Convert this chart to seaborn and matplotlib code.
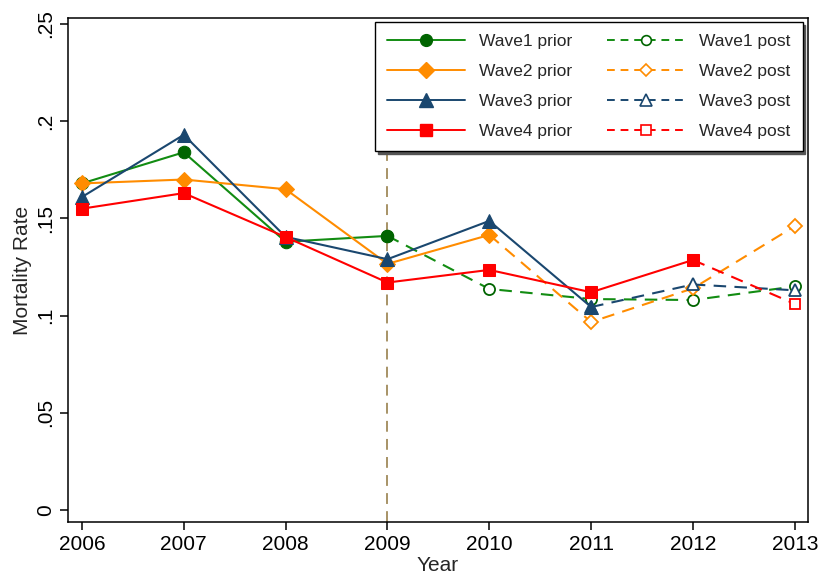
import matplotlib
matplotlib.use("Agg")
import matplotlib.pyplot as plt
import seaborn as sns
import pandas as pd
from matplotlib.lines import Line2D

sns.set_style("ticks")
plt.rcParams['font.family'] = ['Liberation Sans', 'DejaVu Sans']

years = [2006, 2007, 2008, 2009, 2010, 2011, 2012, 2013]
wave1 = [0.168, 0.184, 0.138, 0.141, 0.1137, 0.1085, 0.108, 0.115]
wave2 = [0.168, 0.170, 0.165, 0.1266, 0.1415, 0.0967, 0.114, 0.146]
wave3 = [0.161, 0.193, 0.1405, 0.129, 0.1487, 0.1044, 0.116, 0.113]
wave4 = [0.155, 0.163, 0.1404, 0.117, 0.1235, 0.112, 0.1286, 0.106]
cut_years = [2009, 2010, 2011, 2012]
names = ["Wave1", "Wave2", "Wave3", "Wave4"]
yticks = [0, 0.05, 0.1, 0.15, 0.2, 0.25]
ytick_labels = ["0", ".05", ".1", ".15", ".2", ".25"]

line_colors = ["#128c12", "#ff8c00", "#1a476f", "#ff0000"]
marker_colors = ["#006400", "#ff8c00", "#1a476f", "#ff0000"]
markers = ["o", "D", "^", "s"]
msizes = [9, 8.5, 10, 8.5]

fig = plt.figure(figsize=(8.21, 5.73), dpi=100)
ax = fig.add_axes([0.0828, 0.089, 0.9012, 0.8796])

ax.axvline(2009, color="#a08a5a", lw=1.3, ls=(0, (6, 4)), zorder=1)

handles_prior, handles_post = [], []
for name, vals, cut, lc, mc, m, ms in zip(names, [wave1, wave2, wave3, wave4], cut_years,
                                          line_colors, marker_colors, markers, msizes):
    df = pd.DataFrame({"year": years, "rate": vals})
    pre = df[df.year <= cut]
    post = df[df.year >= cut]
    sns.lineplot(data=post, x="year", y="rate", ax=ax, color=lc, lw=1.5,
                 linestyle=(0, (6, 4)), marker=m, markersize=ms - 1,
                 markerfacecolor="white", markeredgecolor=mc, markeredgewidth=1.3,
                 zorder=2)
    sns.lineplot(data=pre, x="year", y="rate", ax=ax, color=lc, lw=1.5,
                 marker=m, markersize=ms, markerfacecolor=mc, markeredgecolor=mc,
                 zorder=3)
    handles_prior.append(Line2D([], [], color=lc, lw=1.4, marker=m, markersize=ms - 0.5,
                                markerfacecolor=mc, markeredgecolor=mc,
                                label=f"{name} prior"))
    handles_post.append(Line2D([], [], color=lc, lw=1.4, ls=(0, (4, 3)), marker=m,
                               markersize=ms - 2, markerfacecolor="white",
                               markeredgecolor=mc, markeredgewidth=1.2,
                               label=f"{name} post"))

ax.set_xlim(2005.863, 2013.128)
ax.set_ylim(-0.0062, 0.2531)
ax.set_xticks(years)
ax.set_xticklabels([str(y) for y in years], fontsize=15)
ax.set_yticks(yticks)
ax.set_yticklabels(ytick_labels, fontsize=15, rotation=90, va="center")
ax.tick_params(axis="both", direction="out", length=6, width=1.1, colors="black")
for s in ax.spines.values():
    s.set_linewidth(1.1)
    s.set_color("black")
ax.set_xlabel("Year", fontsize=15, labelpad=1)
ax.set_ylabel("Mortality Rate", fontsize=15, labelpad=3)

leg = ax.legend(handles=handles_prior + handles_post, ncol=2, loc="upper right",
                bbox_to_anchor=(0.993, 0.992), borderaxespad=0, fontsize=12.5,
                frameon=True, fancybox=False, shadow={"color": "#555555", "alpha": 1},
                handlelength=4.5, handletextpad=0.8, columnspacing=2.0,
                labelspacing=0.85, borderpad=0.7, edgecolor="black")
leg.get_frame().set_linewidth(1.0)

fig.savefig("out.png", dpi=100)
